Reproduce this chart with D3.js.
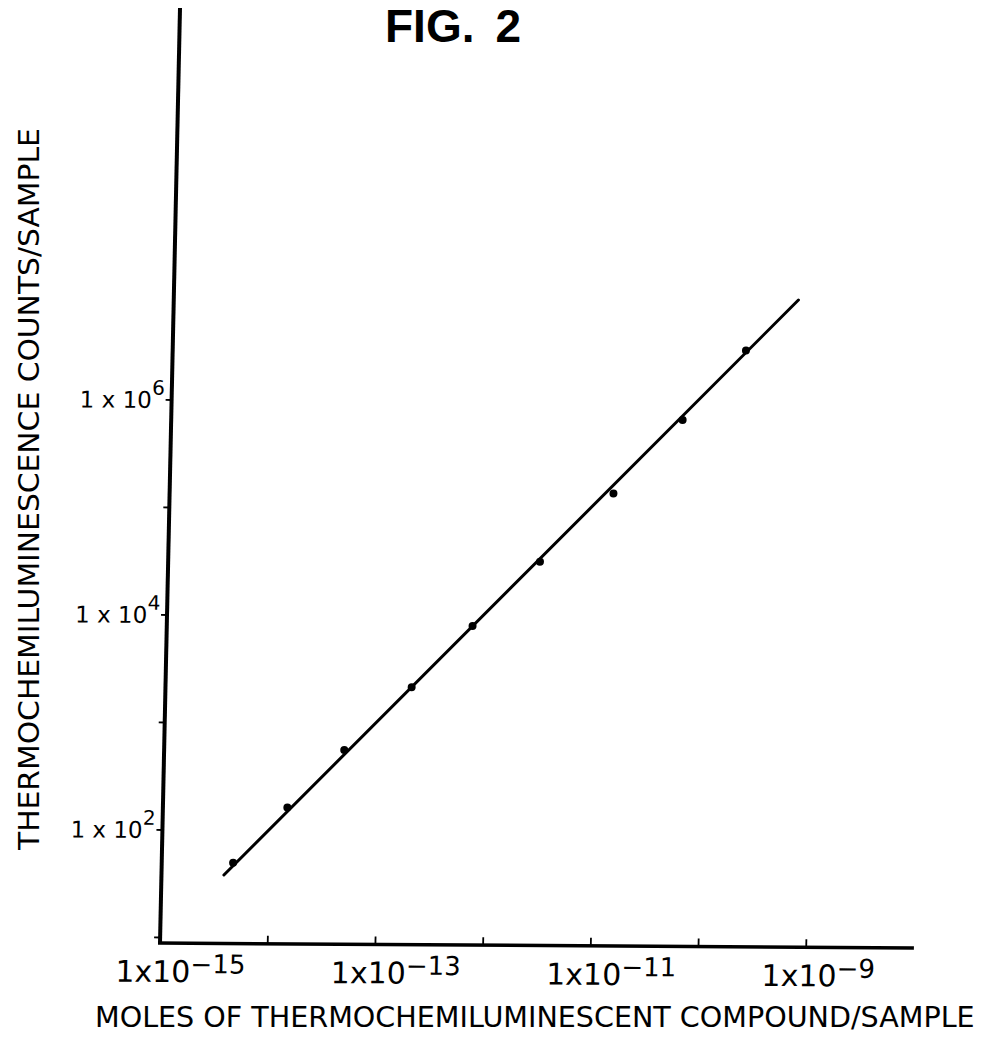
<!DOCTYPE html>
<html>
<head>
<meta charset="utf-8">
<script src="https://cdn.jsdelivr.net/npm/d3@7"></script>
<style>
  html, body { margin: 0; padding: 0; background: #fff; }
  svg { display: block; }
</style>
</head>
<body>
<script>
// ---- data ----
const molesPerSample = [4.6e-15, 1.43e-14, 4.7e-14, 1.93e-13, 6.9e-13, 2.83e-12, 1.32e-11, 5.6e-11, 2.1e-10];
const countsPerSample = [50, 165, 570, 2200, 8240, 33000, 144000, 700000, 3.13e6];
const fitLineX = [3.8e-15, 6.3e-10];
const fitLineY = [38.5, 9.3e6];
const xTickValues = [1e-15, 1e-14, 1e-13, 1e-12, 1e-11, 1e-10, 1e-9];
const xLabelValues = [1e-15, 1e-13, 1e-11, 1e-9];
const xLabelExponents = ["−15", "−13", "−11", "−9"];
const yTickValues = [1e1, 1e2, 1e3, 1e4, 1e5, 1e6];
const yLabelValues = [1e2, 1e4, 1e6];
const yLabelExponents = ["2", "4", "6"];
const figTitle = "FIG.";
const figNumber = "2";
const xTitle = "MOLES OF THERMOCHEMILUMINESCENT COMPOUND/SAMPLE";
const yTitle = "THERMOCHEMILUMINESCENCE COUNTS/SAMPLE";

// ---- layout ----
const W = 985, H = 1041;
const x0 = 160, xEnd = 913.9, yBase = 943, yTop = 8;

const svg = d3.select("body").append("svg")
  .attr("width", W).attr("height", H)
  .attr("viewBox", `0 0 ${W} ${H}`);

svg.append("rect").attr("width", W).attr("height", H).attr("fill", "#fff");

const x = d3.scaleLog().domain([1e-15, 1e-8]).range([x0, xEnd]);
const y = d3.scaleLog().domain([1e2, 1e6]).range([830, 400]);

// scan skew of the original sheet
const g = svg.append("g")
  .attr("transform", "matrix(1,0.00664,-0.02139,1,20.17,-1.06)");

// axes lines
g.append("line").attr("x1", x0).attr("x2", x0).attr("y1", yBase).attr("y2", yTop)
  .attr("stroke", "#000").attr("stroke-width", 4);
g.append("line").attr("x1", x0 - 2).attr("x2", xEnd).attr("y1", yBase).attr("y2", yBase)
  .attr("stroke", "#000").attr("stroke-width", 3.5);

// x ticks
g.selectAll(".xt").data(xTickValues).enter().append("line")
  .attr("x1", d => x(d)).attr("x2", d => x(d))
  .attr("y1", yBase).attr("y2", yBase - 8)
  .attr("stroke", "#000").attr("stroke-width", 1.8);

// y ticks
g.selectAll(".yt").data(yTickValues).enter().append("line")
  .attr("x1", x0).attr("x2", x0 - 6)
  .attr("y1", d => y(d)).attr("y2", d => y(d))
  .attr("stroke", "#000").attr("stroke-width", 1.8);

// x tick labels
const xl = g.selectAll(".xl").data(xLabelValues).enter().append("text")
  .attr("x", d => x(d) - 44).attr("y", yBase + 39)
  .attr("font-family", "DejaVu Sans").attr("font-size", 30).attr("fill", "#000");
xl.append("tspan").text("1x10");
xl.append("tspan").attr("font-size", 26).attr("dy", -9).text((d, i) => xLabelExponents[i]);

// y tick labels
const yl = g.selectAll(".yl").data(yLabelValues).enter().append("text")
  .attr("x", x0 - 7).attr("y", d => y(d) + 8)
  .attr("text-anchor", "end")
  .attr("font-family", "DejaVu Sans").attr("font-size", 23).attr("fill", "#000");
yl.append("tspan").text("1 x 10");
yl.append("tspan").attr("font-size", 20).attr("dy", -13).text((d, i) => yLabelExponents[i]);

// fitted line
const line = d3.line().x(d => x(d[0])).y(d => y(d[1]));
g.append("path")
  .datum(fitLineX.map((v, i) => [v, fitLineY[i]]))
  .attr("d", line)
  .attr("fill", "none").attr("stroke", "#000").attr("stroke-width", 3)
  .attr("stroke-linecap", "round");

// data points
g.selectAll(".pt").data(molesPerSample).enter().append("circle")
  .attr("cx", d => x(d)).attr("cy", (d, i) => y(countsPerSample[i]))
  .attr("r", 4).attr("fill", "#000");

// title
const t = svg.append("text").attr("x", 385).attr("y", 42)
  .attr("font-family", "Liberation Sans, Arial, sans-serif").attr("font-weight", "bold")
  .attr("font-size", 46).attr("fill", "#000");
t.append("tspan").text(figTitle);
t.append("tspan").attr("dx", 21).text(figNumber);

// axis titles, squeezed horizontally to the reference length
const xt = svg.append("text")
  .attr("font-family", "DejaVu Sans").attr("font-size", 29).attr("fill", "#000")
  .text(xTitle);
const xtw = xt.node().getComputedTextLength();
xt.attr("transform", `translate(95,1027) scale(${880 / xtw},1)`);

const ytEl = svg.append("text")
  .attr("font-family", "DejaVu Sans").attr("font-size", 29).attr("fill", "#000")
  .text(yTitle);
const ytw = ytEl.node().getComputedTextLength();
ytEl.attr("transform", `translate(39,850) rotate(-90) scale(${722 / ytw},1)`);
</script>
</body>
</html>
